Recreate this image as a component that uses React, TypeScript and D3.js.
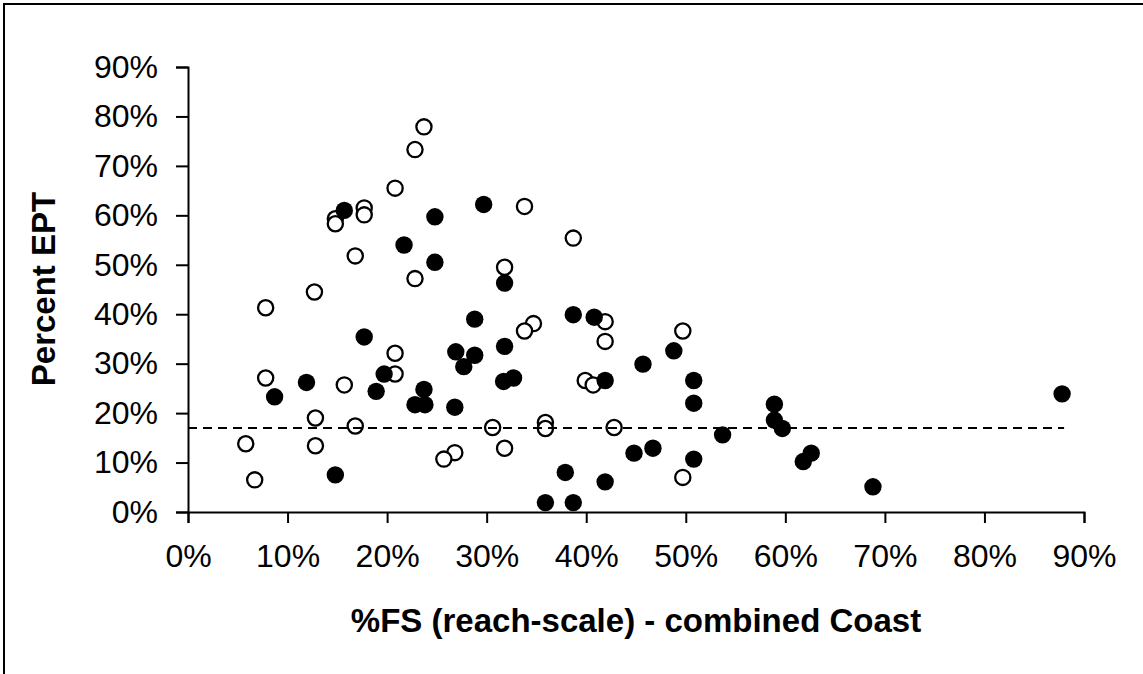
import { useRef, useEffect } from 'react';
import * as d3 from 'd3';

var WIDTH = 1143;
var HEIGHT = 674;

// hollow markers: %FS (x) and Percent EPT (y)
var OPEN_X = [23.7, 22.8, 20.8, 17.7, 17.7, 14.8, 14.8, 16.8, 22.8, 12.7, 7.8, 20.8, 20.8, 7.8, 15.7, 12.8, 16.8, 5.8, 12.8, 26.8, 25.7, 6.7, 33.8, 38.7, 31.8, 41.9, 34.7, 33.8, 49.7, 41.9, 39.9, 40.7, 30.6, 35.9, 35.9, 42.8, 31.8, 49.7];
var OPEN_Y = [77.9, 73.3, 65.5, 61.5, 60.1, 59.3, 58.3, 51.8, 47.2, 44.5, 41.3, 32.1, 27.9, 27.1, 25.7, 19.0, 17.4, 13.8, 13.4, 12.0, 10.7, 6.5, 61.8, 55.4, 49.5, 38.5, 38.1, 36.6, 36.6, 34.5, 26.6, 25.7, 17.1, 18.1, 16.9, 17.1, 12.9, 7.0];

// filled markers
var FILLED_X = [15.7, 24.8, 29.7, 21.7, 24.8, 28.8, 17.7, 26.9, 28.8, 27.7, 19.7, 11.9, 8.7, 18.9, 23.7, 22.8, 23.8, 26.8, 14.8, 31.8, 38.7, 40.8, 31.8, 48.8, 45.7, 32.7, 31.7, 41.9, 50.8, 50.8, 58.9, 58.9, 59.7, 53.7, 44.8, 46.7, 50.8, 37.9, 41.9, 35.9, 38.7, 87.8, 62.6, 61.8, 68.8];
var FILLED_Y = [61.0, 59.7, 62.2, 54.0, 50.5, 39.0, 35.4, 32.4, 31.7, 29.4, 27.9, 26.2, 23.3, 24.4, 24.8, 21.7, 21.7, 21.2, 7.5, 46.3, 39.9, 39.4, 33.5, 32.6, 29.9, 27.1, 26.4, 26.6, 26.6, 22.0, 21.8, 18.6, 16.9, 15.6, 11.9, 12.9, 10.7, 8.0, 6.1, 1.9, 1.9, 23.9, 11.9, 10.2, 5.1];

// reference level (dashed)
var REF_VALUE = 17;
var REF_EXTENT = [0, 88];

var TICKS = [0, 10, 20, 30, 40, 50, 60, 70, 80, 90];

var FONT = '"Liberation Sans", Arial, sans-serif';

export default function App() {
  var svgRef = useRef<SVGSVGElement | null>(null);

  useEffect(function () {
    var svg = d3.select(svgRef.current);
    svg.selectAll('*').remove();

    var x = d3.scaleLinear().domain([0, 90]).range([188, 1084]);
    var y = d3.scaleLinear().domain([0, 90]).range([512, 67]);
    var fmt = function (d: any) { return d + '%'; };

    // outer chart frame (right/bottom edges lie outside the picture)
    svg.append('rect')
      .attr('x', 4).attr('y', 4)
      .attr('width', WIDTH + 20).attr('height', HEIGHT + 20)
      .attr('fill', '#fff')
      .attr('stroke', '#000')
      .attr('stroke-width', 2);

    // y axis
    var yAxis = svg.append('g')
      .attr('transform', 'translate(' + x(0) + ',0)')
      .call(d3.axisLeft(y).tickValues(TICKS).tickFormat(fmt).tickSize(12).tickPadding(18));
    yAxis.select('.domain').attr('stroke', '#000').attr('stroke-width', 2);
    yAxis.selectAll('line').attr('stroke', '#000').attr('stroke-width', 2);
    yAxis.selectAll('text')
      .attr('font-family', FONT)
      .attr('font-size', 32)
      .attr('fill', '#000');

    // x axis
    var xAxis = svg.append('g')
      .attr('transform', 'translate(0,' + y(0) + ')')
      .call(d3.axisBottom(x).tickValues(TICKS).tickFormat(fmt).tickSize(11).tickPadding(21));
    xAxis.select('.domain').attr('stroke', '#000').attr('stroke-width', 2);
    xAxis.selectAll('line').attr('stroke', '#000').attr('stroke-width', 2);
    xAxis.selectAll('text')
      .attr('font-family', FONT)
      .attr('font-size', 32)
      .attr('fill', '#000');

    // hollow series
    svg.append('g').selectAll('circle')
      .data(OPEN_X)
      .enter().append('circle')
      .attr('cx', function (d) { return x(d); })
      .attr('cy', function (d, i) { return y(OPEN_Y[i]); })
      .attr('r', 7.6)
      .attr('fill', '#fff')
      .attr('stroke', '#000')
      .attr('stroke-width', 2.3);

    // filled series
    svg.append('g').selectAll('circle')
      .data(FILLED_X)
      .enter().append('circle')
      .attr('cx', function (d) { return x(d); })
      .attr('cy', function (d, i) { return y(FILLED_Y[i]); })
      .attr('r', 8.7)
      .attr('fill', '#000');

    // dashed reference line
    svg.append('line')
      .attr('x1', x(REF_EXTENT[0]))
      .attr('x2', x(REF_EXTENT[1]))
      .attr('y1', y(REF_VALUE))
      .attr('y2', y(REF_VALUE))
      .attr('stroke', '#000')
      .attr('stroke-width', 2)
      .attr('stroke-dasharray', '9,6');

    // axis titles
    svg.append('text')
      .attr('x', 636)
      .attr('y', 632)
      .attr('text-anchor', 'middle')
      .attr('font-family', FONT)
      .attr('font-size', 33)
      .attr('font-weight', 'bold')
      .text('%FS (reach-scale) - combined Coast');

    svg.append('text')
      .attr('transform', 'translate(55,289) rotate(-90)')
      .attr('text-anchor', 'middle')
      .attr('font-family', FONT)
      .attr('font-size', 33)
      .attr('font-weight', 'bold')
      .text('Percent EPT');
  }, []);

  return (
    <svg
      ref={svgRef}
      width={WIDTH}
      height={HEIGHT}
      style={{ position: 'absolute', left: 0, top: 0, background: '#fff' }}
    />
  );
}
